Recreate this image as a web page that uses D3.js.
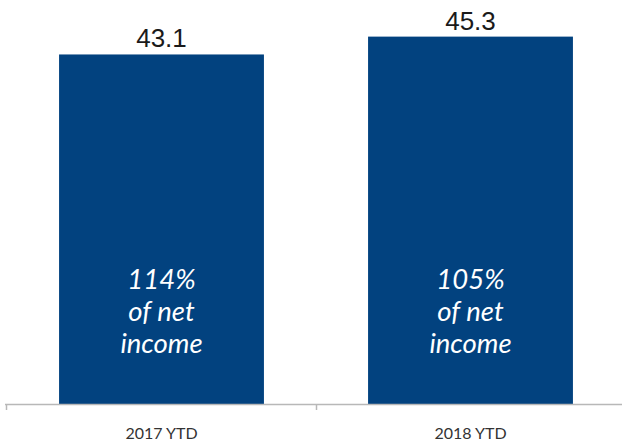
<!DOCTYPE html>
<html>
<head>
<meta charset="utf-8">
<script src="https://cdn.jsdelivr.net/npm/d3@7"></script>
<style>
  body { margin: 0; background: #fff; }
  svg { display: block; }
</style>
</head>
<body>
<div id="chart"></div>
<script>
var svgWidth = 622;
var svgHeight = 444;

// data
var categories = ["2017 YTD", "2018 YTD"];
var values = [43.1, 45.3];
var valueLabels = ["43.1", "45.3"];
var noteLines = [
  ["114%", "of net", "income"],
  ["105%", "of net", "income"]
];

var baseY = 404;

var svg = d3.select("#chart")
  .append("svg")
  .attr("width", svgWidth)
  .attr("height", svgHeight);

// band scale, bars take about two thirds of each slot
var x = d3.scaleBand()
  .domain(categories)
  .range([7, 625])
  .paddingInner(0.337)
  .paddingOuter(0.337 / 2);

var y = d3.scaleLinear()
  .domain([0, 50])
  .range([baseY, baseY - 50 * 8.11]);

var rows = categories.map(function(c, i) {
  return { cat: c, value: values[i], label: valueLabels[i], note: noteLines[i] };
});

// bars
svg.selectAll("rect.bar")
  .data(rows)
  .enter()
  .append("rect")
  .attr("class", "bar")
  .attr("x", d => x(d.cat))
  .attr("y", d => y(d.value))
  .attr("width", x.bandwidth())
  .attr("height", d => baseY - y(d.value))
  .attr("fill", "#02427f");

// value labels above the bars
svg.selectAll("text.val")
  .data(rows)
  .enter()
  .append("text")
  .attr("class", "val")
  .attr("x", d => x(d.cat) + x.bandwidth() / 2)
  .attr("y", d => y(d.value) - 7)
  .attr("text-anchor", "middle")
  .style("font-family", "'Liberation Sans', Arial, sans-serif")
  .style("font-size", "26px")
  .style("fill", "#1a1a1a")
  .text(d => d.label);

// italic notes inside the bars
var notes = svg.selectAll("text.note")
  .data(rows)
  .enter()
  .append("text")
  .attr("class", "note")
  .attr("text-anchor", "middle")
  .style("font-family", "Lato, sans-serif")
  .style("font-style", "italic")
  .style("font-size", "27.5px")
  .style("fill", "#ffffff");

notes.selectAll("tspan")
  .data(d => d.note.map(function(t) { return { t: t, cx: x(d.cat) + x.bandwidth() / 2 }; }))
  .enter()
  .append("tspan")
  .attr("x", d => d.cx)
  .attr("y", (d, i) => 289 + i * 32)
  .text(d => d.t);

// category axis: line, ticks at slot boundaries, labels
var axis = svg.append("g").attr("class", "axis");

axis.append("line")
  .attr("x1", 5)
  .attr("x2", svgWidth)
  .attr("y1", baseY + 0.5)
  .attr("y2", baseY + 0.5)
  .attr("stroke", "#b8b8b8")
  .attr("stroke-width", 1.5);

var bounds = [x.range()[0] - 1.5].concat(categories.map(c => x(c) - x.step() * x.paddingInner() / 2 + x.step()));
axis.selectAll("line.tick")
  .data(bounds)
  .enter()
  .append("line")
  .attr("class", "tick")
  .attr("x1", d => Math.round(d) + 0.5)
  .attr("x2", d => Math.round(d) + 0.5)
  .attr("y1", baseY)
  .attr("y2", baseY + 6)
  .attr("stroke", "#b8b8b8")
  .attr("stroke-width", 1.5);

axis.selectAll("text")
  .data(categories)
  .enter()
  .append("text")
  .attr("x", d => x(d) + x.bandwidth() / 2)
  .attr("y", 439)
  .attr("text-anchor", "middle")
  .style("font-family", "Lato, sans-serif")
  .style("font-size", "16px")
  .style("fill", "#333333")
  .text(d => d);
</script>
</body>
</html>
